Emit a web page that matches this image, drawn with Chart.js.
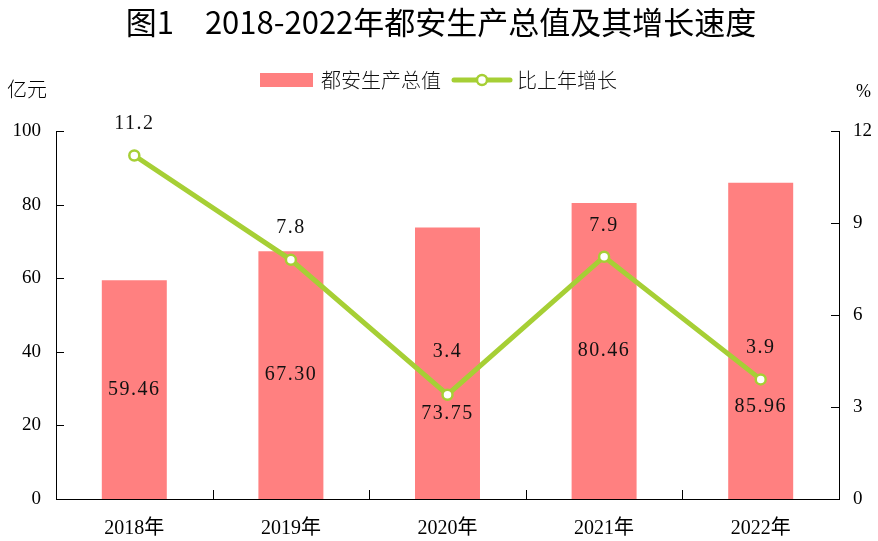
<!DOCTYPE html>
<html>
<head>
<meta charset="utf-8">
<script src="https://cdn.jsdelivr.net/npm/chart.js@4.4.1/dist/chart.umd.min.js"></script>
<style>
  html, body { margin: 0; padding: 0; background: #fff; }
  #wrap { width: 878px; height: 541px; position: relative; }
</style>
</head>
<body>
<div id="wrap"><canvas id="c"></canvas></div>
<script>
// ---- data ----
const categories = ['2018年', '2019年', '2020年', '2021年', '2022年'];
const gdpValues = [59.46, 67.30, 73.75, 80.46, 85.96];
const growthRates = [11.2, 7.8, 3.4, 7.9, 3.9];
const leftTicks = [0, 20, 40, 60, 80, 100];
const rightTicks = [0, 3, 6, 9, 12];

const titleText = '图1　2018-2022年都安生产总值及其增长速度';
const barName = '都安生产总值';
const lineName = '比上年增长';
const leftUnit = '亿元';
const rightUnit = '%';

const BAR_COLOR = '#FF8080';
const LINE_COLOR = '#A6CF35';
const SERIF = '"Liberation Serif", "Times New Roman", "Noto Sans CJK SC", serif';
const CJK = '"Noto Sans CJK SC", sans-serif';

const decorPlugin = {
  id: 'decor',
  afterDatasetsDraw(chart, args, opts) {
    const ctx = chart.ctx;
    const ca = chart.chartArea;
    const x = chart.scales.x, y = chart.scales.y, y1 = chart.scales.y1;
    ctx.save();
    // inward ticks
    ctx.strokeStyle = '#000';
    ctx.lineWidth = 1;
    ctx.beginPath();
    leftTicks.forEach(v => {
      const py = Math.round(y.getPixelForValue(v)) + 0.5;
      ctx.moveTo(ca.left, py); ctx.lineTo(ca.left + 8, py);
    });
    rightTicks.forEach(v => {
      const py = Math.round(y1.getPixelForValue(v)) + 0.5;
      ctx.moveTo(ca.right, py); ctx.lineTo(ca.right - 8, py);
    });
    for (let i = 1; i < categories.length; i++) {
      const px = Math.round((x.getPixelForValue(i - 1) + x.getPixelForValue(i)) / 2) + 0.5;
      ctx.moveTo(px, ca.bottom); ctx.lineTo(px, ca.bottom - 9);
    }
    ctx.stroke();

    // value labels
    ctx.fillStyle = '#111';
    ctx.font = '20px ' + SERIF;
    ctx.textAlign = 'center';
    ctx.textBaseline = 'middle';
    try { ctx.letterSpacing = '1.5px'; } catch (e) {}
    const barMeta = chart.getDatasetMeta(0);
    barMeta.data.forEach((el, i) => {
      const py = y.getPixelForValue(gdpValues[i] / 2) + opts.barLabelShift[i];
      ctx.fillText(gdpValues[i].toFixed(2), el.x, py);
    });
    const lineMeta = chart.getDatasetMeta(1);
    lineMeta.data.forEach((el, i) => {
      ctx.fillText(growthRates[i].toFixed(1), el.x, el.y + opts.lineLabelShift[i]);
    });
    try { ctx.letterSpacing = '0px'; } catch (e) {}

    // title
    ctx.fillStyle = '#000';
    ctx.font = '400 31px ' + CJK;
    ctx.textAlign = 'center';
    ctx.fillText(titleText, 441, 22);

    // units
    ctx.font = '300 20px ' + CJK;
    ctx.textAlign = 'left';
    ctx.fillText(leftUnit, 7, 89);
    ctx.font = '18px ' + SERIF;
    ctx.fillText(rightUnit, 856, 92);

    // legend
    ctx.fillStyle = BAR_COLOR;
    ctx.fillRect(260, 73, 53, 14);
    ctx.fillStyle = '#111';
    ctx.font = '300 20px ' + CJK;
    ctx.textAlign = 'left';
    ctx.fillText(barName, 321, 80);
    ctx.strokeStyle = LINE_COLOR;
    ctx.lineWidth = 5;
    ctx.lineCap = 'round';
    ctx.beginPath(); ctx.moveTo(454, 80); ctx.lineTo(510, 80); ctx.stroke();
    ctx.beginPath(); ctx.arc(482, 80, 5, 0, Math.PI * 2);
    ctx.fillStyle = '#fff'; ctx.fill();
    ctx.lineWidth = 2.5; ctx.stroke();
    ctx.fillStyle = '#111';
    ctx.fillText(lineName, 517, 80);
    ctx.restore();
  }
};

new Chart(document.getElementById('c'), {
  data: {
    labels: categories,
    datasets: [
      {
        type: 'bar',
        label: barName,
        data: gdpValues,
        backgroundColor: BAR_COLOR,
        borderWidth: 0,
        yAxisID: 'y',
        barPercentage: 0.415,
        categoryPercentage: 1.0,
        order: 2
      },
      {
        type: 'line',
        label: lineName,
        data: growthRates,
        borderColor: LINE_COLOR,
        borderWidth: 5,
        tension: 0,
        pointRadius: 5,
        pointBorderWidth: 2.5,
        pointBackgroundColor: '#fff',
        pointBorderColor: LINE_COLOR,
        yAxisID: 'y1',
        order: 1
      }
    ]
  },
  options: {
    responsive: true,
    maintainAspectRatio: false,
    animation: false,
    events: [],
    layout: { padding: { top: 131, left: 0, right: 0, bottom: 0 } },
    plugins: {
      legend: { display: false },
      title: { display: false },
      tooltip: { enabled: false },
      decor: {
        barLabelShift: [0, 0, 50, 0, 66],
        lineLabelShift: [-32, -32, -43, -31, -32]
      }
    },
    scales: {
      x: {
        grid: { display: false },
        border: { display: true, color: '#000', width: 1 },
        ticks: { color: '#000', font: { family: SERIF, size: 20 }, padding: 10, maxRotation: 0 },
        afterFit(s) { s.height = 42; }
      },
      y: {
        position: 'left',
        min: 0, max: 100,
        afterBuildTicks(s) { s.ticks = leftTicks.map(v => ({ value: v })); },
        grid: { display: false, drawTicks: false },
        border: { display: true, color: '#000', width: 1 },
        ticks: { color: '#000', font: { family: SERIF, size: 19 }, padding: 15 },
        afterFit(s) { s.width = 56; }
      },
      y1: {
        position: 'right',
        min: 0, max: 12,
        afterBuildTicks(s) { s.ticks = rightTicks.map(v => ({ value: v })); },
        grid: { display: false, drawTicks: false },
        border: { display: true, color: '#000', width: 1 },
        ticks: { color: '#000', font: { family: SERIF, size: 19 }, padding: 14 },
        afterFit(s) { s.width = 39; }
      }
    }
  },
  plugins: [decorPlugin]
});
</script>
</body>
</html>
